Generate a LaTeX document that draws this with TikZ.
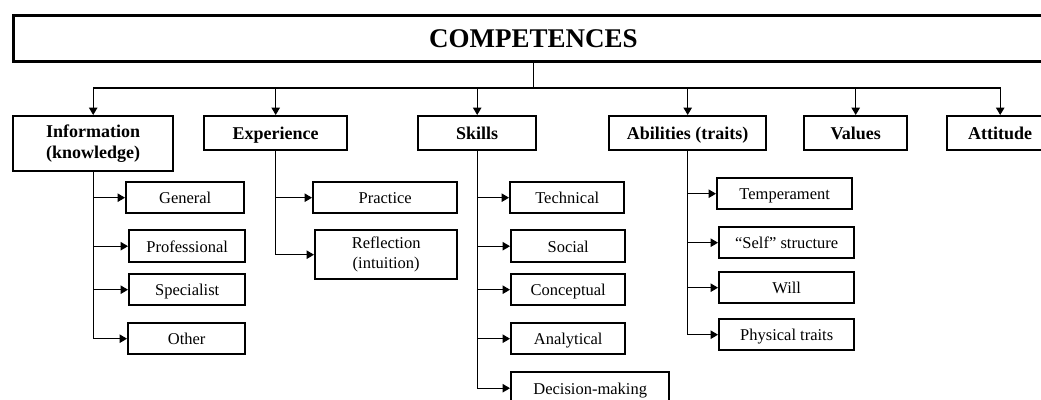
\documentclass[tikz,border=0pt]{standalone}
\usepackage{fontspec}
\setmainfont{Liberation Serif}
\usepackage{tikz}
\usetikzlibrary{arrows.meta}

\tikzset{
  titlebox/.style={draw,line width=2.6pt,inner sep=0pt,anchor=north west,
                   font=\fontsize{27}{30}\selectfont\bfseries},
  headbox/.style={draw,line width=2.4pt,inner sep=0pt,anchor=north west,
                  align=center,text height=12pt,text depth=0pt,
                  font=\fontsize{18}{21}\selectfont\bfseries},
  itembox/.style={draw,line width=2.4pt,inner sep=0pt,anchor=north west,
                  align=center,text height=12pt,text depth=0pt,
                  font=\fontsize{16.5}{20}\selectfont},
  twoline/.style={text height=,text depth=},
  wire/.style={line width=1.3pt},
  conn/.style={wire,-{Triangle[length=7.5pt,width=8.5pt]}}
}

\begin{document}
\begin{tikzpicture}[x=1pt,y=-1pt]
  \useasboundingbox (0,0) rectangle (1041,399);
  \clip (0,0) rectangle (1041,399);

  % main heading
  \node[titlebox,minimum width=1040pt,minimum height=46pt] (comp) at (12,14) {COMPETENCES};
  \coordinate (bus) at (comp.south |- 0,88);

  % first level
  \node[headbox,twoline,minimum width=160pt,minimum height=55pt] (info) at (12,115) {Information\\(knowledge)};
  \node[headbox,minimum width=143pt,minimum height=34pt] (exper) at (203,115) {Experience};
  \node[headbox,minimum width=118pt,minimum height=34pt] (skills) at (417,115) {Skills};
  \node[headbox,minimum width=157pt,minimum height=34pt] (abil) at (608,115) {Abilities (traits)};
  \node[headbox,minimum width=103pt,minimum height=34pt] (values) at (803,115) {Values};
  \node[headbox,minimum width=106pt,minimum height=34pt] (attit) at (946,115) {Attitude};

  \draw[wire] (comp.south) -- (bus);
  \draw[conn] (bus) -| (info.north);
  \draw[conn] (bus) -| (exper.north);
  \draw[conn] (bus) -| (skills.north);
  \draw[conn] (bus) -| (abil.north);
  \draw[conn] (bus) -| (values.north);
  \draw[conn] (bus) -| (attit.north);

  % information
  \node[itembox,minimum width=118pt,minimum height=31pt] (gen) at (125,181) {General};
  \node[itembox,minimum width=116pt,minimum height=32pt] (prof) at (128,229) {Professional};
  \node[itembox,minimum width=116pt,minimum height=31pt] (spec) at (128,273) {Specialist};
  \node[itembox,minimum width=117pt,minimum height=31pt] (other) at (127,322) {Other};
  \draw[conn] (info.south) |- (gen.west);
  \draw[conn] (info.south) |- (prof.west);
  \draw[conn] (info.south) |- (spec.west);
  \draw[conn] (info.south) |- (other.west);

  % experience
  \node[itembox,minimum width=144pt,minimum height=31pt] (pract) at (312,181) {Practice};
  \node[itembox,twoline,minimum width=142pt,minimum height=49pt] (refl) at (314,229) {Reflection\\(intuition)};
  \draw[conn] (exper.south) |- (pract.west);
  \draw[conn] (exper.south) |- (refl.west);

  % skills
  \node[itembox,minimum width=114pt,minimum height=31pt] (tech) at (509,181) {Technical};
  \node[itembox,minimum width=114pt,minimum height=32pt] (social) at (510,229) {Social};
  \node[itembox,minimum width=114pt,minimum height=31pt] (concept) at (510,273) {Conceptual};
  \node[itembox,minimum width=114pt,minimum height=31pt] (analyt) at (510,322) {Analytical};
  \node[itembox,minimum width=158pt,minimum height=32pt] (decis) at (510,371) {Decision-making};
  \draw[conn] (skills.south) |- (tech.west);
  \draw[conn] (skills.south) |- (social.west);
  \draw[conn] (skills.south) |- (concept.west);
  \draw[conn] (skills.south) |- (analyt.west);
  \draw[conn] (skills.south) |- (decis.west);

  % abilities
  \node[itembox,minimum width=135pt,minimum height=31pt] (temper) at (716,177) {Temperament};
  \node[itembox,minimum width=135pt,minimum height=31pt] (self) at (718,226) {``Self'' structure};
  \node[itembox,minimum width=135pt,minimum height=31pt] (will) at (718,271) {Will};
  \node[itembox,minimum width=135pt,minimum height=31pt] (phys) at (718,318) {Physical traits};
  \draw[conn] (abil.south) |- (temper.west);
  \draw[conn] (abil.south) |- (self.west);
  \draw[conn] (abil.south) |- (will.west);
  \draw[conn] (abil.south) |- (phys.west);
\end{tikzpicture}
\end{document}
